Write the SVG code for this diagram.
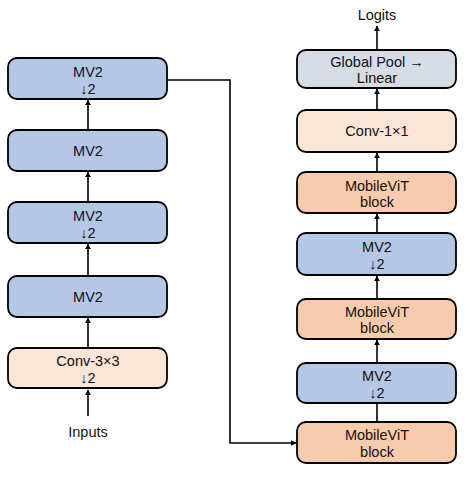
<svg xmlns="http://www.w3.org/2000/svg" width="471" height="477" viewBox="0 0 471 477">
<defs>
<marker id="ah" viewBox="0 0 10 10" refX="9" refY="5" markerWidth="6" markerHeight="7" markerUnits="userSpaceOnUse" orient="auto">
<path d="M0,0 L10,5 L0,10 z" fill="#000"/>
</marker>
<style>
.box{stroke:#000;stroke-width:1.8}
.mv{fill:#b4c7e7}
.cv{fill:#fbe5d6}
.vit{fill:#f8cbad}
.gp{fill:#d6dce5}
text{font-family:"Liberation Sans",Arial,sans-serif;font-size:14.5px;fill:#111;text-anchor:middle}
text.s{font-size:14.5px}
.c line,.c polyline{stroke:#000;stroke-width:1.6;fill:none}
</style>
</defs>
<rect width="471" height="477" fill="#fff"/>
<g class="c">
<line x1="88" y1="416" x2="88" y2="390" marker-end="url(#ah)"/>
<line x1="88" y1="348" x2="88" y2="318" marker-end="url(#ah)"/>
<line x1="88" y1="276" x2="88" y2="244" marker-end="url(#ah)"/>
<line x1="88" y1="202" x2="88" y2="172" marker-end="url(#ah)"/>
<line x1="88" y1="130" x2="88" y2="100" marker-end="url(#ah)"/>
<polyline points="167,80 230,80 230,443 296,443" marker-end="url(#ah)"/>
<line x1="377" y1="422" x2="377" y2="403"/>
<line x1="377" y1="363" x2="377" y2="340" marker-end="url(#ah)"/>
<line x1="377" y1="299" x2="377" y2="276" marker-end="url(#ah)"/>
<line x1="377" y1="233" x2="377" y2="214" marker-end="url(#ah)"/>
<line x1="377" y1="172" x2="377" y2="153" marker-end="url(#ah)"/>
<line x1="377" y1="110" x2="377" y2="89" marker-end="url(#ah)"/>
<line x1="377" y1="50" x2="377" y2="26" marker-end="url(#ah)"/>
</g>
<g id="inputs"><text x="88" y="437">Inputs</text></g>
<g id="conv3"><rect class="box cv" x="8" y="348" width="159" height="40" rx="9"/><text x="88" y="366">Conv-3×3</text><text class="s" x="88" y="382.5">↓2</text></g>
<g id="mv2a"><rect class="box mv" x="8" y="276" width="159" height="41" rx="9"/><text x="88" y="302">MV2</text></g>
<g id="mv2b"><rect class="box mv" x="8" y="202" width="159" height="41" rx="9"/><text x="88" y="221">MV2</text><text class="s" x="88" y="237.5">↓2</text></g>
<g id="mv2c"><rect class="box mv" x="8" y="130" width="159" height="41" rx="9"/><text x="88" y="156">MV2</text></g>
<g id="mv2d"><rect class="box mv" x="8" y="58" width="159" height="41" rx="9"/><text x="88" y="77">MV2</text><text class="s" x="88" y="93.5">↓2</text></g>
<g id="vit1"><rect class="box vit" x="297" y="422" width="159" height="41" rx="9"/><text x="377" y="440">MobileViT</text><text class="s" x="377" y="456.5">block</text></g>
<g id="mv2e"><rect class="box mv" x="297" y="363" width="159" height="40" rx="9"/><text x="377" y="381">MV2</text><text class="s" x="377" y="397.5">↓2</text></g>
<g id="vit2"><rect class="box vit" x="297" y="299" width="159" height="40" rx="9"/><text x="377" y="316.5">MobileViT</text><text class="s" x="377" y="333">block</text></g>
<g id="mv2f"><rect class="box mv" x="297" y="233" width="159" height="42" rx="9"/><text x="377" y="252">MV2</text><text class="s" x="377" y="268.5">↓2</text></g>
<g id="vit3"><rect class="box vit" x="297" y="172" width="159" height="41" rx="9"/><text x="377" y="190.5">MobileViT</text><text class="s" x="377" y="207">block</text></g>
<g id="conv1"><rect class="box cv" x="297" y="110" width="159" height="42" rx="9"/><text x="377" y="136">Conv-1×1</text></g>
<g id="gp"><rect class="box gp" x="297" y="50" width="159" height="38" rx="9"/><text x="377" y="66.5">Global Pool →</text><text class="s" x="377" y="83">Linear</text></g>
<g id="logits"><text x="377" y="20">Logits</text></g>
</svg>
